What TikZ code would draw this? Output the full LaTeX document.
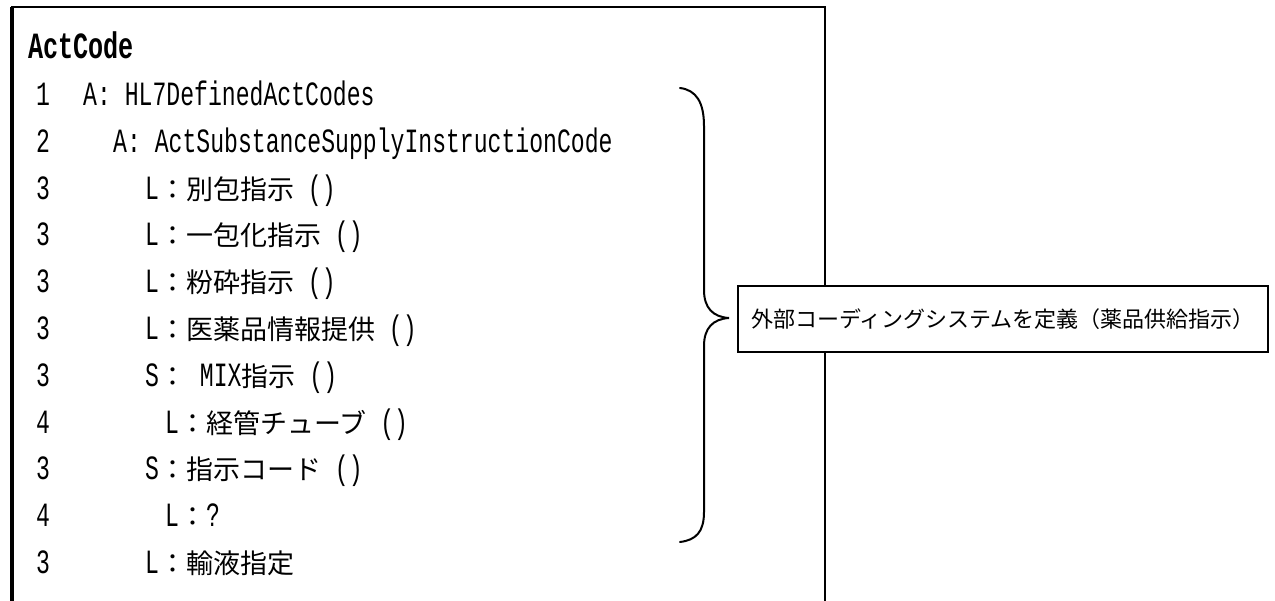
\documentclass[tikz,border=0pt]{standalone}
\usepackage{fontspec}
\newfontfamily\lat[FakeStretch=0.68]{Liberation Mono}
\newfontfamily\jp{Noto Sans CJK JP}
\newcommand\jtxt[1]{{\fontsize{27}{30}\selectfont\jp #1}}
\begin{document}
\begin{tikzpicture}[x=1pt,y=-1pt,
  rowtxt/.style={anchor=base west,inner sep=0pt,font=\fontsize{34}{36}\selectfont\lat},
  numtxt/.style={anchor=base west,inner sep=0pt,font=\fontsize{34}{36}\selectfont\lat},
  titletxt/.style={anchor=base west,inner sep=0pt,font=\fontsize{37}{40}\selectfont\lat\bfseries},
  notebox/.style={draw,line width=1.8pt,fill=white,minimum width=530pt,minimum height=66pt,inner sep=0pt,font=\fontsize{22}{25}\selectfont\jp},
  bracepath/.style={line width=2pt,line cap=round}]
\useasboundingbox (0,0) rectangle (1275,601);
\clip (0,0) rectangle (1275,601);
% outer frame (open at the bottom)
\draw[line width=3.2pt] (12,610) -- (12,7);
\draw[line width=2pt] (11,7) -- (826,7);
\draw[line width=2.6pt] (825,7) -- (825,610);
% title
\node[titletxt] (r0) at (28,59) {ActCode};
% numbers
\foreach \k/\n in {1/1,2/2,3/3,4/3,5/3,6/3,7/3,8/4,9/3,10/4,11/3}{
  \node[numtxt] (n\k) at (36,{105.5+46.8*(\k-1)}) {\n};
}
% rows
\node[rowtxt] (r1) at (83,105.5) {A: HL7DefinedActCodes};
\node[rowtxt] (r2) at (113,152.3) {A: ActSubstanceSupplyInstructionCode};
\node[rowtxt] (r3) at (145,199.1) {L\jtxt{：別包指示} ()};
\node[rowtxt] (r4) at (145,245.9) {L\jtxt{：一包化指示} ()};
\node[rowtxt] (r5) at (145,292.7) {L\jtxt{：粉砕指示} ()};
\node[rowtxt] (r6) at (145,339.5) {L\jtxt{：医薬品情報提供} ()};
\node[rowtxt] (r7) at (145,386.3) {S\jtxt{：} MIX\jtxt{指示} ()};
\node[rowtxt] (r8) at (165,433.1) {L\jtxt{：経管チューブ} ()};
\node[rowtxt] (r9) at (145,479.9) {S\jtxt{：指示コード} ()};
\node[rowtxt] (r10) at (165,526.7) {L\jtxt{：}?};
\node[rowtxt] (r11) at (145,573.5) {L\jtxt{：輸液指定}};
% callout
\node[notebox] (note) at (1003,319) {外部コーディングシステムを定義（薬品供給指示）};
% brace
\coordinate (btop) at (680,88);
\coordinate (bbot) at (680,542);
\coordinate (btip) at (729,318);
\draw[bracepath] (btop) .. controls (696,90) and (704,102) .. (704,126)
  -- (704,290) .. controls (704,308) and (713,317) .. (btip)
  .. controls (713,319) and (704,328) .. (704,346)
  -- (704,512) .. controls (704,532) and (696,540) .. (bbot);
\end{tikzpicture}
\end{document}
